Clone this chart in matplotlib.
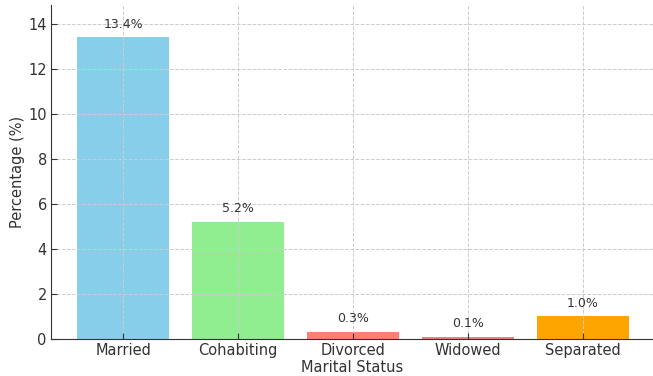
import matplotlib as mpl
mpl.use("Agg")
import matplotlib.pyplot as plt
import numpy as np

# Marital status breakdown (percent)
categories = ["Married", "Cohabiting", "Divorced", "Widowed", "Separated"]
values = [13.4, 5.2, 0.3, 0.1, 1.0]
bar_colors = ["skyblue", "lightgreen", "salmon", "lightcoral", "orange"]

txt = "#333333"
fig = plt.figure(figsize=(6.53, 3.76), dpi=100)
ax = fig.add_axes([51 / 653, 37 / 376, 602 / 653, 334 / 376])

x = np.arange(len(categories))
ax.bar(x, values, width=0.8, color=bar_colors)

for xi, v in zip(x, values):
    ax.text(xi, v + 0.3, f"{v:.1f}%", ha="center", va="bottom", fontsize=9, color=txt)

ax.set_xticks(x)
ax.set_xticklabels(categories)
ax.set_xlim(-0.63, 4.61)
ax.set_ylim(0, 14.84)
ax.set_xlabel("Marital Status", fontsize=10.5, labelpad=1, color=txt)
ax.set_ylabel("Percentage (%)", fontsize=10.5, labelpad=2, color=txt)
ax.tick_params(labelsize=10.5, direction="in", colors=txt, pad=3, length=4)
ax.grid(True, linestyle="--", color="#cccccc", linewidth=0.7)
ax.spines["top"].set_visible(False)
ax.spines["right"].set_visible(False)
ax.spines["left"].set_color(txt)
ax.spines["bottom"].set_color(txt)

fig.savefig("out.png", dpi=100)
plt.close(fig)
